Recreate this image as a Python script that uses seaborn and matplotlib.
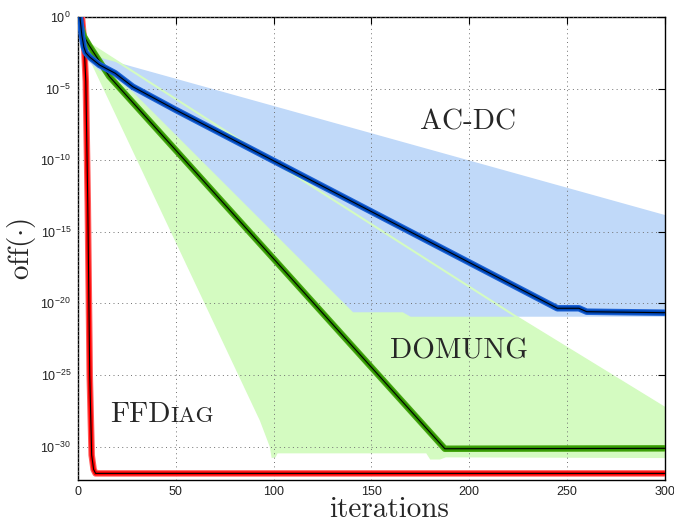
import numpy as np
import pandas as pd
import matplotlib
matplotlib.use("Agg")
import matplotlib.pyplot as plt
import seaborn as sns
from matplotlib.ticker import FixedLocator, LogFormatterMathtext, NullLocator

# ---- data: log10 of off(.) against iteration ----
# FFDiag (mean curve)
ffdiag_iter = [0, 1, 2, 3, 4, 5, 6, 7, 8, 9, 300]
ffdiag_log = [0.4, 0.2, 0.0, -1.6, -4.5, -13.0, -25.0, -30.6, -31.6, -31.87, -31.87]

# DOMUNG (mean curve and spread envelope)
domung_iter = [0, 1, 2, 3, 6, 16, 187.5, 300]
domung_log = [0.0, -0.45, -0.9, -1.35, -2.05, -4.15, -30.15, -30.12]
domung_hi_iter = [0, 2, 4, 106.6, 224, 300]
domung_hi_log = [0.2, -0.8, -1.7, -10.69, -20.93, -27.3]
domung_lo_iter = [0, 2, 3, 6, 93, 98, 99, 101, 102, 178, 180, 185, 188, 300]
domung_lo_log = [-0.2, -1.0, -1.6, -3.0, -28.2, -30.0, -30.8, -30.75, -30.47,
                 -30.47, -30.9, -30.9, -30.75, -30.8]

# AC-DC (mean curve and spread envelope)
acdc_iter = [0, 1, 2, 3, 4, 6, 11, 19, 28, 50, 245, 256, 260, 300]
acdc_log = [0.4, 0.0, -1.3, -2.1, -2.5, -2.8, -3.35, -3.93, -4.87, -6.49,
            -20.34, -20.34, -20.58, -20.65]
acdc_hi_iter = [0, 1, 2, 3, 4, 5, 300]
acdc_hi_log = [0.6, 0.3, -1.0, -1.8, -2.3, -2.6, -13.83]
acdc_lo_iter = [0, 1, 2, 3, 4, 6, 11, 19, 28, 140.6, 166, 170, 300]
acdc_lo_log = [0.2, -0.3, -1.7, -2.5, -2.9, -3.2, -3.75, -4.3, -5.23,
               -20.62, -20.62, -20.93, -20.93]

x_ticks = [0, 50, 100, 150, 200, 250, 300]
y_tick_exponents = [0, -5, -10, -15, -20, -25, -30]

# ---- styling ----
sns.set_theme(style="white")
plt.rcParams.update({
    "font.family": ["Liberation Sans", "DejaVu Sans"],
    "axes.edgecolor": "black",
    "axes.linewidth": 1.0,
    "xtick.color": "black",
    "ytick.color": "black",
})

red_outer, red_inner = "#ff5c5c", "#ff0000"
green_outer, green_inner, green_band = "#48a812", "#2f9400", "#d4fbc1"
blue_outer, blue_inner, blue_band = "#1c62d6", "#0047b6", "#c0d9f9"

fig = plt.figure(figsize=(6.74, 5.22), dpi=100)
ax = fig.add_axes([0.1157, 0.0805, 0.8709, 0.887])
ax.set_yscale("log")


def envelope(hi_it, hi_log, lo_it, lo_log):
    xs = np.r_[np.asarray(hi_it, float), np.asarray(lo_it, float)[::-1]]
    ys = 10.0 ** np.r_[np.asarray(hi_log, float), np.asarray(lo_log, float)[::-1]]
    return xs, ys


# spread envelopes
gx, gy = envelope(domung_hi_iter, domung_hi_log, domung_lo_iter, domung_lo_log)
ax.fill(gx, gy, color=green_band, lw=0, zorder=1.0)
bx, by = envelope(acdc_hi_iter, acdc_hi_log, acdc_lo_iter, acdc_lo_log)
ax.fill(bx, by, color=blue_band, lw=0, zorder=1.1)
ax.plot(domung_hi_iter, 10.0 ** np.asarray(domung_hi_log), color=green_band,
        lw=1.5, zorder=1.2, solid_capstyle="butt")


def curve(it, logv, outer, inner):
    df = pd.DataFrame({"iteration": it, "off": 10.0 ** np.asarray(logv)})
    for col, lw in ((outer, 4.7), (inner, 3.0), ("black", 0.8)):
        sns.lineplot(data=df, x="iteration", y="off", color=col, linewidth=lw,
                     estimator=None, sort=False, ax=ax, zorder=3)


curve(ffdiag_iter, ffdiag_log, red_outer, red_inner)
curve(domung_iter, domung_log, green_outer, green_inner)
curve(acdc_iter, acdc_log, blue_outer, blue_inner)

# axes, ticks, grid
ax.set_xlim(0, 300)
ax.set_ylim(10.0 ** -32.33, 1.0)
ax.set_xticks(x_ticks)
ax.yaxis.set_major_locator(FixedLocator([10.0 ** e for e in y_tick_exponents]))
ax.yaxis.set_major_formatter(LogFormatterMathtext())
ax.yaxis.set_minor_locator(NullLocator())
ax.tick_params(which="major", direction="in", length=5, width=0.8,
               top=True, right=True, labelsize=9, labelcolor="#222222")
ax.tick_params(axis="x", pad=4)
ax.tick_params(axis="y", pad=5)
for s in ax.spines.values():
    s.set_visible(True)
    s.set_color("black")
    s.set_linewidth(1.0)
ax.set_axisbelow(False)
ax.grid(True, which="major", linestyle=(0, (1, 3.5)), color="#707070", lw=0.7)

# labels
ax.set_xlabel("iterations", fontfamily="cmr10", fontsize=21)
ax.xaxis.set_label_coords(0.53, -0.08)
ax.xaxis.label.set_va("baseline")
ax.set_ylabel(r"$\mathrm{off}(\cdot)$", fontsize=21, math_fontfamily="cm")
ax.yaxis.set_label_coords(-0.068, 0.5)

ax.text(199.2, 10.0 ** -7.89, "AC-DC", fontfamily="cmr10", fontsize=21,
        ha="center", va="baseline", zorder=4)
ax.text(194.6, 10.0 ** -23.88, "DOMUNG", fontfamily="cmr10", fontsize=21,
        ha="center", va="baseline", zorder=4)
ff_base = 10.0 ** -28.28
t_ff = ax.text(16.3, ff_base, "FFD", fontfamily="cmr10", fontsize=21,
               ha="left", va="baseline", zorder=4)
ax.annotate("IAG", xy=(1, ff_base), xycoords=(t_ff, "data"),
            fontfamily="cmr10", fontsize=16.5, ha="left", va="baseline", zorder=4)

fig.savefig("out.png", dpi=100)
